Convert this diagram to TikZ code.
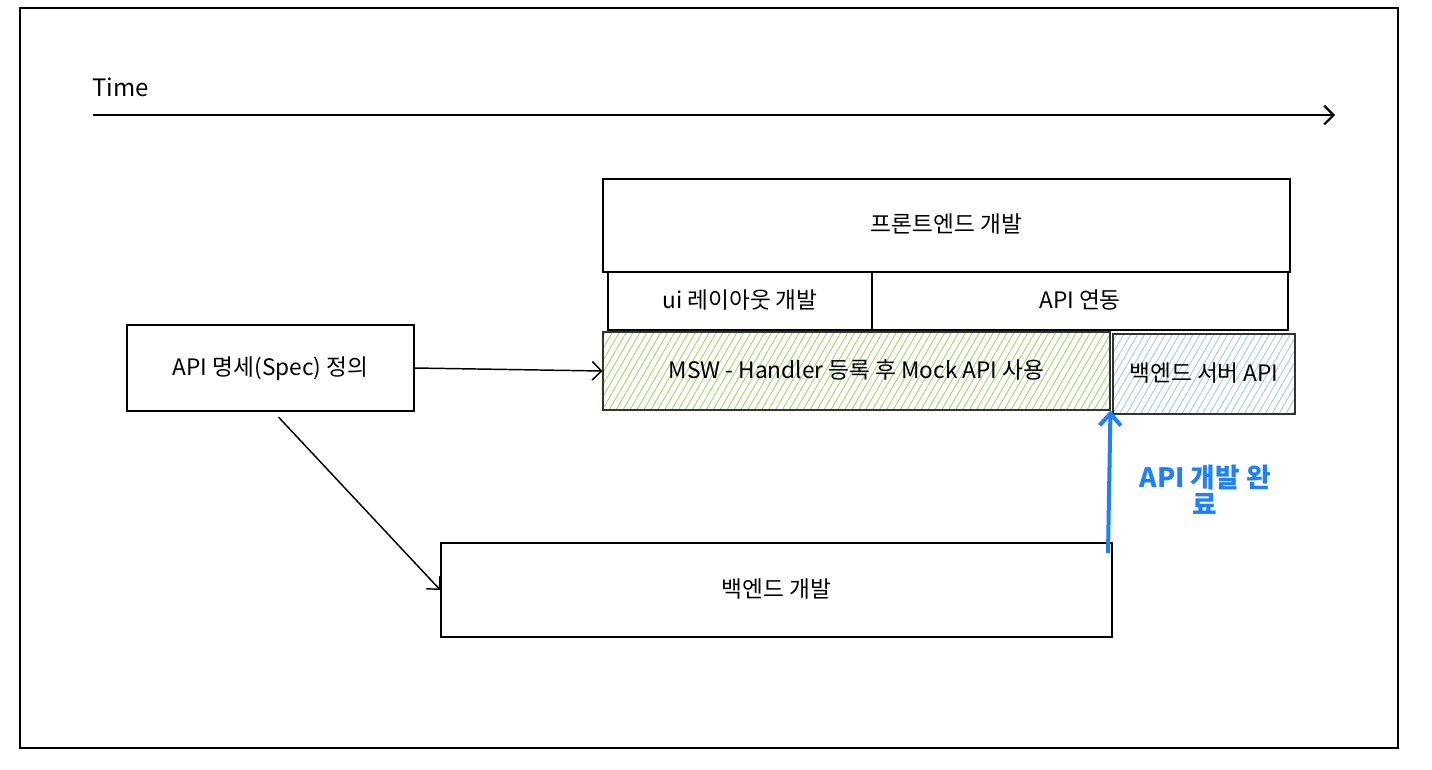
\documentclass[tikz,border=0pt]{standalone}
\usepackage{fontspec}
\setmainfont{Noto Sans CJK KR}
\usetikzlibrary{arrows.meta,fit,patterns.meta}

\definecolor{mswgreen}{HTML}{A8D66A}
\definecolor{srvblue}{HTML}{A5CBF0}
\definecolor{doneblue}{HTML}{1E80FF}

\begin{document}
\begin{tikzpicture}[x=0.75pt,y=-0.75pt,
  box/.style={draw=black, line width=1.1pt, inner sep=0pt, text height=13pt, text depth=2pt, font=\fontsize{17}{19}\selectfont},
  sz/.style 2 args={minimum width=#1*0.75pt, minimum height=#2*0.75pt},
  mswbox/.style={box, draw=black!80, pattern={Lines[angle=60,distance=4.5pt,line width=0.7pt]}, pattern color=mswgreen},
  srvbox/.style={box, draw=black!80, pattern={Lines[angle=60,distance=4.5pt,line width=0.7pt]}, pattern color=srvblue},
  flow/.style={-{Straight Barb[length=7pt,width=14pt]}, line width=1.1pt},
  >={Straight Barb[length=7pt,width=14pt]}]

\useasboundingbox (0,0) rectangle (1432,769);

% outer frame
\node[draw=black, line width=1.2pt, inner sep=0pt, fit={(20,8) (1398,748)}] (frame) {};

% time axis
\node[anchor=west, inner sep=0pt, font=\fontsize{18}{20}\selectfont] (time) at (92,87) {Time};
\coordinate (t0) at (93,115);
\coordinate (t1) at (1335,115);
\draw[->, line width=1.6pt] (t0) -- (t1);

% frontend
\node[box, sz={687}{93}] (fe) at (946.5,225.5) {프론트엔드 개발};
\node[box, sz={264}{58}] (ui) at (740,301) {ui 레이아웃 개발};
\node[box, sz={416}{58}] (api) at (1080,301) {API 연동};
\node[mswbox, sz={507}{78}] (msw) at (856.5,371) {MSW - Handler 등록 후 Mock API 사용};
\node[srvbox, sz={182}{80}] (srv) at (1204,374) {백엔드 서버 API};

% spec
\node[box, sz={287}{86}] (spec) at (270.5,368) {API 명세(Spec) 정의};

% backend
\node[box, sz={671}{94}] (be) at (776.5,590) {백엔드 개발};

\draw[flow] (spec.east) -- (msw.west);
\draw[flow] ([xshift=6pt,yshift=-4pt]spec.south) -- (be.west);

% api done
\coordinate (done) at (1108,553);
\draw[-{Straight Barb[length=9pt,width=16pt]}, doneblue, line width=3pt] (done) -- (msw.south east);
\node[text=doneblue, align=center, inner sep=0pt, font=\fontsize{20}{20}\selectfont\bfseries] (donelabel) at (1205,490) {API 개발 완\\료};

\end{tikzpicture}
\end{document}
